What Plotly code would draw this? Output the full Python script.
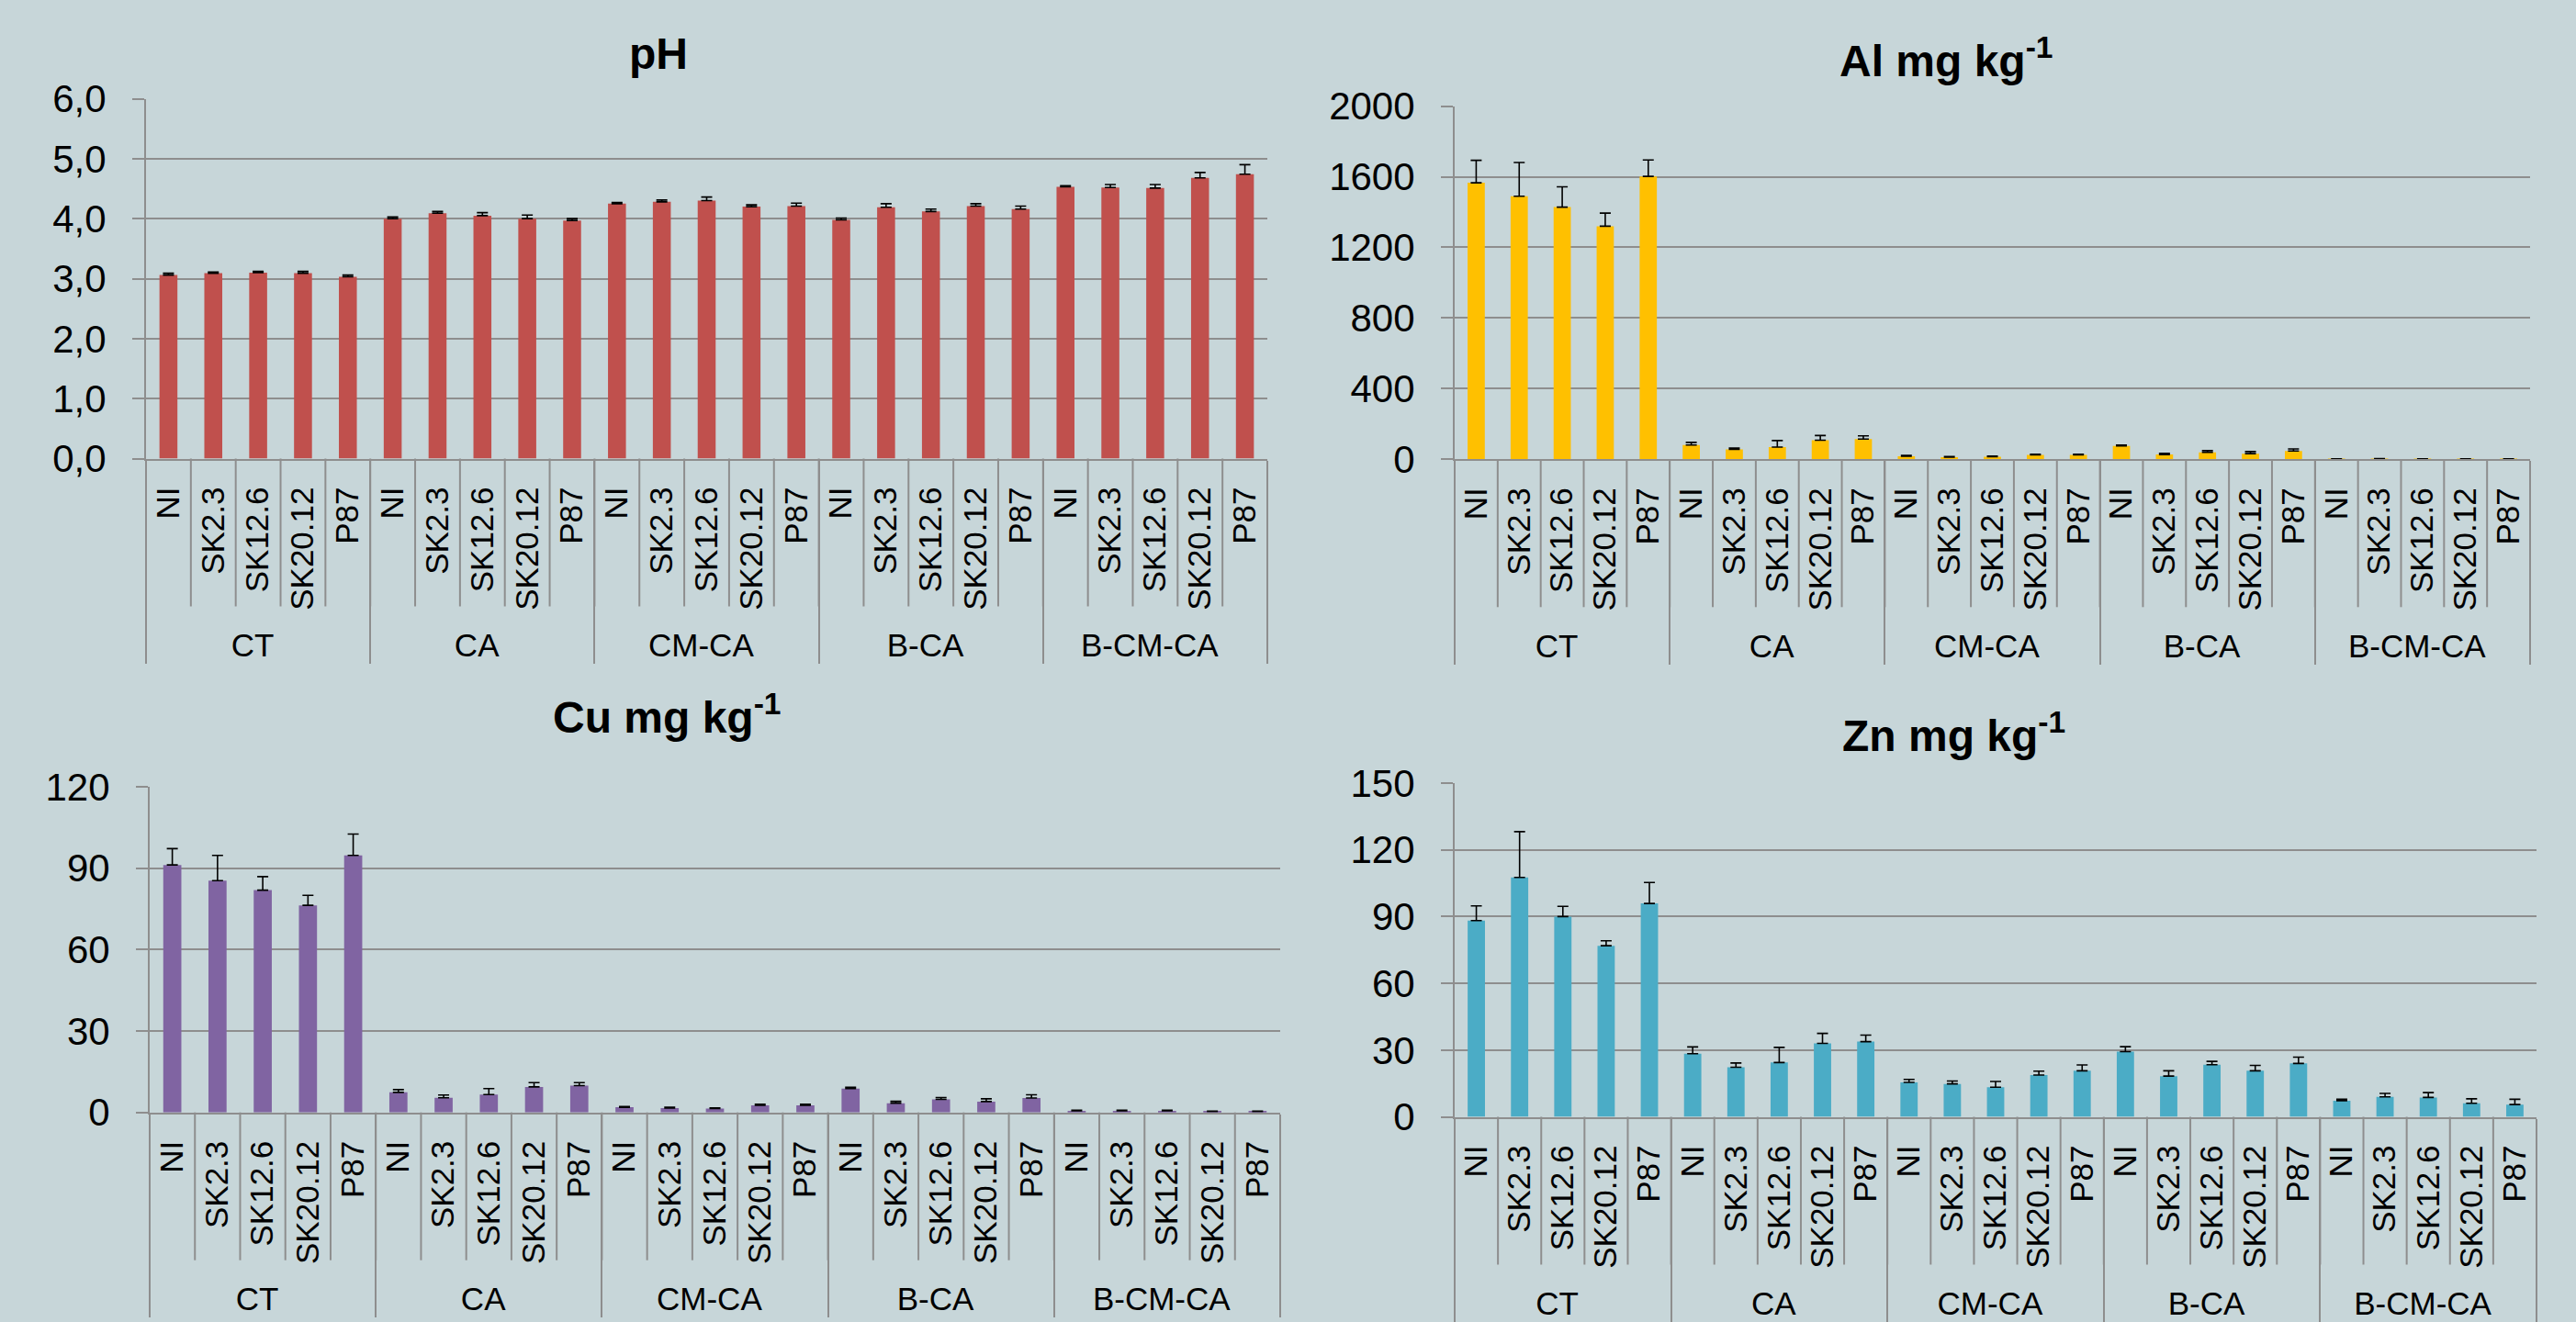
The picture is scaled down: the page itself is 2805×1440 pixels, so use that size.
import plotly.graph_objects as go

W, H = 2805, 1440

groups = ["CT", "CA", "CM-CA", "B-CA", "B-CM-CA"]
treatments = ["NI", "SK2.3", "SK12.6", "SK20.12", "P87"]

ph_mean = [3.06, 3.09, 3.10, 3.09, 3.03,
           4.00, 4.09, 4.05, 4.00, 3.97,
           4.25, 4.28, 4.30, 4.20, 4.21,
           3.98, 4.19, 4.12, 4.21, 4.16,
           4.53, 4.52, 4.51, 4.68, 4.74]
ph_err = [0.03, 0.02, 0.02, 0.03, 0.03,
          0.03, 0.03, 0.05, 0.06, 0.03,
          0.02, 0.03, 0.06, 0.03, 0.05,
          0.03, 0.06, 0.04, 0.04, 0.05,
          0.02, 0.05, 0.06, 0.09, 0.16]

al_mean = [1566, 1490, 1428, 1320, 1602,
           81, 56, 69, 108, 115,
           17, 12, 15, 25, 25,
           76, 27, 39, 32, 47,
           2, 3, 2, 2, 2]
al_err = [127, 191, 115, 74, 93,
          15, 8, 37, 27, 18,
          5, 3, 3, 4, 4,
          5, 7, 10, 12, 12,
          1, 1, 1, 1, 1]

cu_mean = [91.2, 85.4, 81.9, 76.3, 94.7,
           7.4, 5.4, 6.6, 9.4, 9.9,
           1.9, 1.6, 1.4, 2.6, 2.6,
           8.8, 3.4, 4.8, 4.0, 5.3,
           0.6, 0.6, 0.6, 0.3, 0.3]
cu_err = [6.0, 9.3, 5.0, 3.7, 7.9,
          1.0, 1.0, 2.2, 1.6, 1.1,
          0.3, 0.3, 0.3, 0.4, 0.4,
          0.5, 0.7, 0.7, 1.0, 1.2,
          0.2, 0.2, 0.2, 0.2, 0.2]

zn_mean = [88.2, 107.6, 90.0, 76.9, 95.9,
           28.4, 22.3, 24.4, 33.0, 33.8,
           15.5, 14.8, 13.3, 18.8, 20.7,
           29.3, 18.3, 23.4, 20.7, 24.0,
           7.2, 9.0, 8.7, 6.1, 5.5]
zn_err = [6.6, 20.6, 4.6, 2.2, 9.4,
          3.0, 1.9, 6.8, 4.5, 2.9,
          1.3, 1.3, 2.6, 1.7, 2.6,
          2.2, 2.4, 1.5, 2.4, 2.8,
          0.7, 1.5, 2.2, 2.0, 2.4]

titles = ["pH", "Al mg kg<sup>-1</sup>", "Cu mg kg<sup>-1</sup>", "Zn mg kg<sup>-1</sup>"]
colors = ["#C0504D", "#FFC000", "#8064A2", "#4BACC6"]
y_ranges = [[0, 6], [0, 2000], [0, 120], [0, 150]]
y_dticks = [1, 400, 30, 30]
y_formats = [".1f", "d", "d", "d"]

x_level1 = [g for g in groups for t in treatments]
x_level2 = [t for g in groups for t in treatments]
n_cat = len(x_level2)

# pixel layout: (left, right, top, bottom)
boxes = [(159, 1380, 107.5, 499.5),
         (1584, 2755, 115.6, 500.3),
         (163, 1394, 857, 1211.7),
         (1584, 2762, 853, 1216.5)]
title_pos = [(717, 58.5), (2119, 63), (726, 777.5), (2127, 798)]
SEP_LEN = 161  # px length of the inner category separators

BG = "#C7D6D9"
GRID = "#8E8E8E"

fig = go.Figure()
series = [(ph_mean, ph_err), (al_mean, al_err), (cu_mean, cu_err), (zn_mean, zn_err)]
for i, (m, e) in enumerate(series):
    sfx = "" if i == 0 else str(i + 1)
    fig.add_trace(go.Bar(
        x=[x_level1, x_level2], y=m,
        error_y=dict(type="data", array=e, symmetric=False, arrayminus=[0] * len(e),
                     color="#000000", thickness=1.6, width=6),
        marker=dict(color=colors[i], line=dict(width=0)),
        xaxis="x" + sfx, yaxis="y" + sfx, showlegend=False))

layout = dict(template="none", width=W, height=H, paper_bgcolor=BG, plot_bgcolor=BG,
              margin=dict(l=0, r=0, t=0, b=0, autoexpand=False), bargap=0.6, separators=", ",
              annotations=[], shapes=[], showlegend=False)

for i in range(4):
    sfx = "" if i == 0 else str(i + 1)
    l, r, t, b = boxes[i]
    layout["xaxis" + sfx] = dict(
        type="multicategory", domain=[l / W, r / W], anchor="y" + sfx, automargin=False,
        showline=True, linecolor=GRID, linewidth=2,
        showgrid=False, ticks="", tickangle=-90, ticklabelstandoff=15,
        showdividers=True, dividercolor=GRID, dividerwidth=2,
        tickfont=dict(family="Liberation Sans, Arial, sans-serif", size=35, color="#000000"))
    layout["yaxis" + sfx] = dict(
        domain=[1 - b / H, 1 - t / H], anchor="x" + sfx, range=y_ranges[i], automargin=False,
        dtick=y_dticks[i], tick0=0, tickformat=y_formats[i],
        showline=True, linecolor=GRID, linewidth=2,
        showgrid=True, gridcolor=GRID, gridwidth=2, zeroline=False,
        ticks="outside", ticklen=13, tickcolor=GRID, tickwidth=2, ticklabelstandoff=20,
        tickfont=dict(family="Liberation Sans, Arial, sans-serif", size=42, color="#000000"))
    # inner separators between categories (category boundaries on the x axis)
    dom_h = b - t
    for k in range(1, n_cat):
        layout["shapes"].append(dict(
            type="line", xref="x" + sfx + " domain", yref="y" + sfx + " domain",
            x0=k / n_cat, x1=k / n_cat, y0=0, y1=-SEP_LEN / dom_h,
            line=dict(color=GRID, width=2), layer="below"))
    tx, ty = title_pos[i]
    layout["annotations"].append(dict(
        text="<b>" + titles[i] + "</b>", x=tx / W, y=1 - ty / H, xref="paper", yref="paper",
        xanchor="center", yanchor="middle", showarrow=False,
        font=dict(family="Liberation Sans, Arial, sans-serif", size=48, color="#000000")))

fig.update_layout(**layout)
fig.write_html("out.html", config={"displayModeBar": False},
               post_script="document.body.style.margin='0px';"
                           "document.body.style.overflow='hidden';"
                           "document.body.style.background='" + BG + "';")
